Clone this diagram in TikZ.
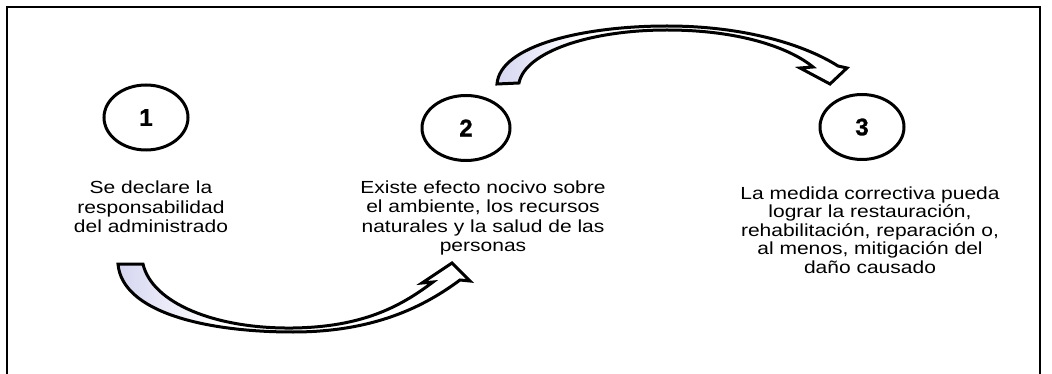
\documentclass[tikz,border=0pt]{standalone}
\usepackage{fontspec}
\usetikzlibrary{shapes.geometric}
\newfontfamily\labfont[FakeStretch=1.2]{Liberation Sans}
\newfontfamily\numfont[BoldFeatures={FakeBold=1.2}]{Liberation Sans}
\definecolor{lav}{RGB}{212,212,240}
\tikzset{
  numbox/.style={ellipse, draw, line width=3pt, minimum width=84pt, minimum height=65pt, inner sep=0pt, font=\numfont\bfseries\fontsize{24}{24}\selectfont},
  labtext/.style={align=center, inner sep=0pt, font=\labfont\fontsize{17.5}{19.5}\selectfont},
  arrowline/.style={line width=3pt, line join=miter},
  frameline/.style={line width=2pt}
}
\begin{document}
\begin{tikzpicture}[x=1pt, y=-1pt]
\useasboundingbox (0,0) rectangle (1052,374);
% frame
\coordinate (fbl) at (7,380);
\coordinate (ftl) at (7,7);
\coordinate (ftr) at (1040,7);
\coordinate (fbr) at (1040,380);
\draw[frameline] (fbl) -- (ftl) -- (ftr) -- (fbr);
% numbers
\node[numbox] (n1) at (146,117.5) {1};
\node[numbox, minimum width=88pt, minimum height=65pt] (n2) at (466,128) {2};
\node[numbox] (n3) at (862,127) {3};
% texts
\node[labtext] (t1) at (151,207) {Se declare la\\responsabilidad\\del administrado};
\node[labtext] (t2) at (483,218) {Existe efecto nocivo sobre\\el ambiente, los recursos\\naturales y la salud de las\\personas};
\node[labtext, font=\labfont\fontsize{17.5}{18.6}\selectfont] (t3) at (870,230) {La medida correctiva pueda\\lograr la restauración,\\rehabilitación, reparación o,\\al menos, mitigación del\\daño causado};
% bottom arrow (1 -> 2)
\def\arrowA{(118,264) .. controls (122,312) and (205,332) .. (293,332) .. controls (375,332) and (425,306) .. (460,280) -- (470,281) -- (452,263) -- (422,283) -- (433,282) .. controls (400,307) and (362,327) .. (293,328) .. controls (215,329) and (152,303) .. (143,264) -- cycle}
\fill[white] \arrowA;
\begin{scope}
  \clip \arrowA;
  \shade[left color=lav, right color=white] (115,255) rectangle (215,340);
\end{scope}
\draw[arrowline] \arrowA;
% top arrow (2 -> 3)
\def\arrowB{(497,84) .. controls (500,45) and (585,26) .. (667,26) .. controls (745,26) and (805,45) .. (838,66) -- (847,68) -- (830,84) -- (800,68) -- (813,67) .. controls (790,48) and (740,30) .. (667,30) .. controls (590,30) and (525,52) .. (519,83) -- cycle}
\fill[white] \arrowB;
\begin{scope}
  \clip \arrowB;
  \shade[left color=lav, right color=white] (495,20) rectangle (580,90);
\end{scope}
\draw[arrowline] \arrowB;
\end{tikzpicture}
\end{document}
